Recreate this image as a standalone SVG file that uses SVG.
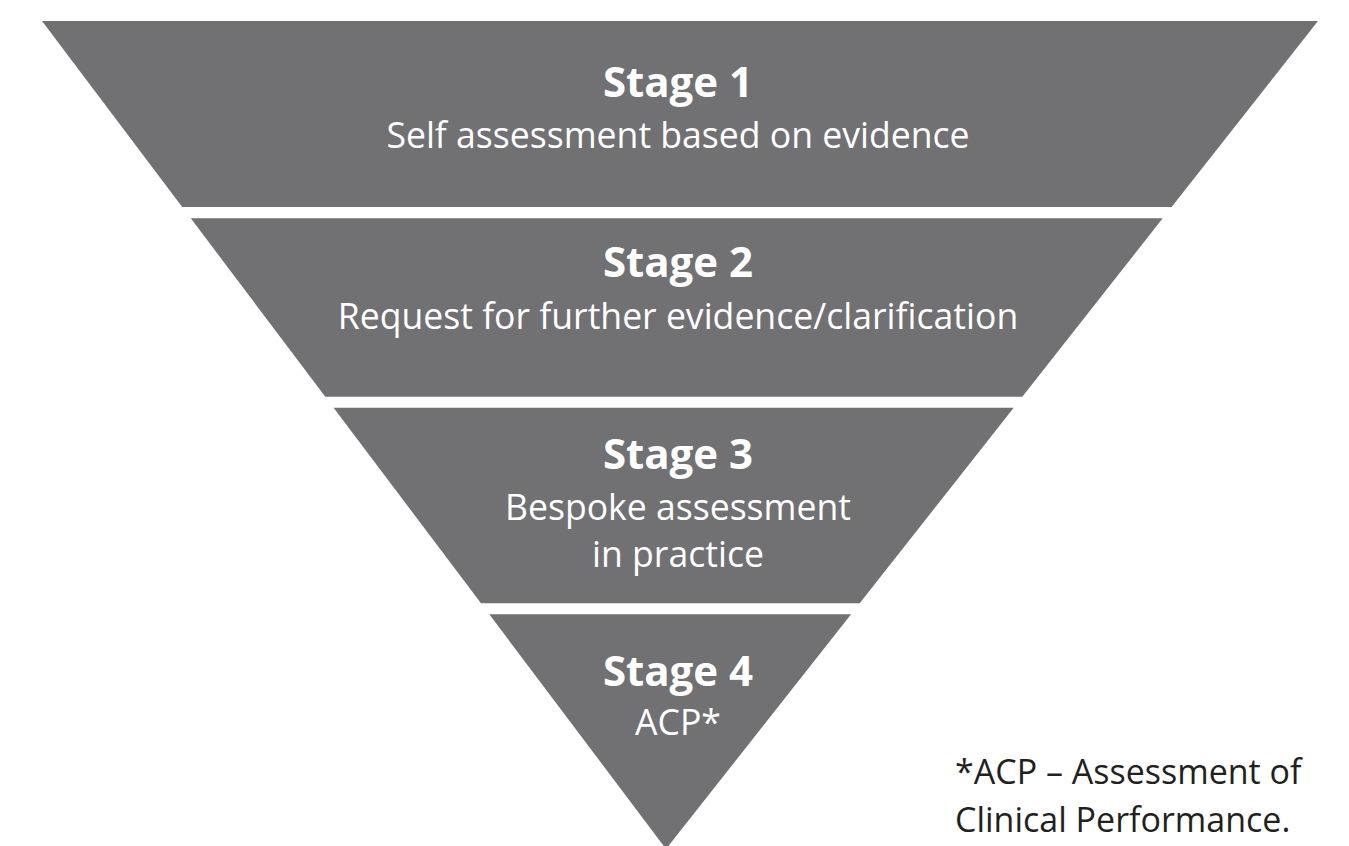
<svg xmlns="http://www.w3.org/2000/svg" width="1349" height="846" viewBox="0 0 1349 846">
<style>
.band{fill:#717073;}
.t{font-family:"Open Sans","Noto Sans",sans-serif;fill:#ffffff;text-anchor:middle;}
.h{font-weight:700;font-size:42px;}
.s{font-weight:400;font-size:35.6px;}
.note{font-family:"Open Sans","Noto Sans",sans-serif;fill:#231f20;font-size:34px;}
</style>
<rect width="1349" height="846" fill="#ffffff"/>
<g id="stage1">
<polygon class="band" points="42,21 1318,21 1171.6,207 182.2,207"/>
<text class="t h" x="678" y="97">Stage 1</text>
<text class="t s" x="678" y="148">Self assessment based on evidence</text>
</g>
<g id="stage2">
<polygon class="band" points="190.8,218.3 1162.7,218.3 1022.3,396.7 325.3,396.7"/>
<text class="t h" x="678" y="277">Stage 2</text>
<text class="t s" x="678" y="329">Request for further evidence/clarification</text>
</g>
<g id="stage3">
<polygon class="band" points="333.6,407.7 1013.7,407.7 859.7,603.3 481,603.3"/>
<text class="t h" x="678" y="469">Stage 3</text>
<text class="t s" x="678" y="520">Bespoke assessment</text>
<text class="t s" x="678" y="567">in practice</text>
</g>
<g id="stage4">
<polygon class="band" points="489.3,614.3 851.1,614.3 666,849"/>
<text class="t h" x="678" y="686">Stage 4</text>
<text class="t s" x="678" y="735">ACP*</text>
</g>
<g id="footnote">
<text class="note" x="955" y="784">*ACP – Assessment of</text>
<text class="note" x="955" y="832">Clinical Performance.</text>
</g>
<g id="connectors"></g>
</svg>
